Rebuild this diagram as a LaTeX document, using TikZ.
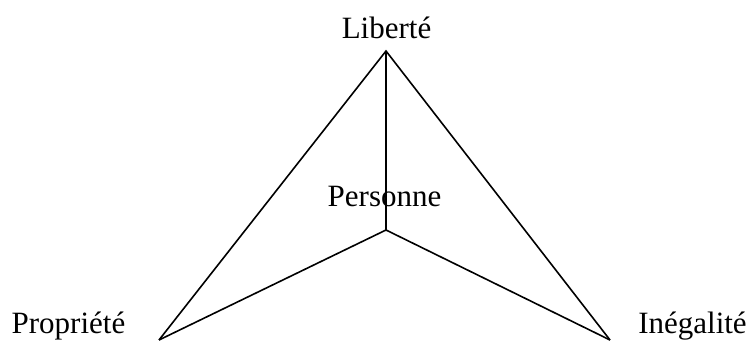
\documentclass[tikz,border=0pt]{standalone}
\usepackage{fontspec}
\setmainfont{Liberation Serif}
\begin{document}
\begin{tikzpicture}[x=1pt,y=1pt,
  lbl/.style={anchor=base,inner sep=0pt,font=\fontsize{31}{36}\selectfont},
  edge/.style={line width=1.6pt,line join=miter}]
\useasboundingbox (0,0) rectangle (751,340);
\coordinate (L) at (386,289);
\coordinate (C) at (386,110);
\coordinate (P) at (159,0);
\coordinate (I) at (610,0);
\node[lbl] (tL) at (386.5,301) {Libert\'e};
\node[lbl] (tC) at (384.5,133) {Personne};
\node[lbl] (tP) at (68.5,7) {Propri\'et\'e};
\node[lbl] (tI) at (692.5,7) {In\'egalit\'e};
\draw[edge] (P) -- (L) -- (I);
\draw[edge] (L) -- (C);
\draw[edge] (P) -- (C) -- (I);
\end{tikzpicture}
\end{document}
